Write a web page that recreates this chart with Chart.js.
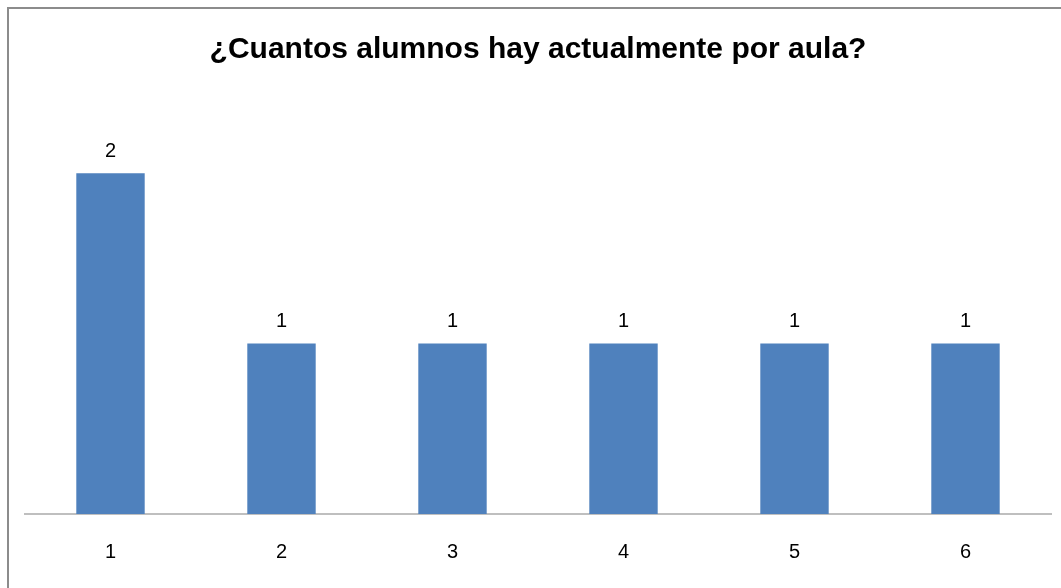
<!DOCTYPE html>
<html>
<head>
<meta charset="utf-8">
<script src="https://cdn.jsdelivr.net/npm/chart.js@4/dist/chart.umd.min.js"></script>
<style>
  html, body { margin: 0; padding: 0; background: #fff; overflow: hidden; }
  #frame { position: absolute; left: 7px; top: 7px; width: 1100px; height: 640px; border: 2px solid #8c8c8c; box-sizing: border-box; }
  #wrap { position: absolute; left: 0; top: 0; width: 1061px; height: 588px; }
</style>
</head>
<body>
<div id="frame"></div>
<div id="wrap"><canvas id="aulas"></canvas></div>
<script>
var categorias = ['1', '2', '3', '4', '5', '6'];
var alumnos = [2, 1, 1, 1, 1, 1];
var titulo = '¿Cuantos alumnos hay actualmente por aula?';

// etiquetas de valor encima de cada barra
var valorEncima = {
    id: 'valorEncima',
    afterDatasetsDraw: function(chart) {
        var ctx = chart.ctx;
        var meta = chart.getDatasetMeta(0);
        ctx.save();
        ctx.font = '20px "Liberation Sans", Arial, sans-serif';
        ctx.fillStyle = '#000';
        ctx.textAlign = 'center';
        ctx.textBaseline = 'bottom';
        meta.data.forEach(function(bar, i) {
            ctx.fillText(String(alumnos[i]), bar.x, bar.y - 12);
        });
        ctx.restore();
    }
};

var ctx = document.getElementById('aulas').getContext('2d');
var grafico = new Chart(ctx, {
    type: 'bar',
    data: {
        labels: categorias,
        datasets: [{
            data: alumnos,
            backgroundColor: '#4f81bd',
            borderWidth: 0,
            barPercentage: 0.4,
            categoryPercentage: 1
        }]
    },
    options: {
        responsive: true,
        maintainAspectRatio: false,
        animation: false,
        layout: { padding: { left: 25, right: 10, top: 0, bottom: 6 } },
        plugins: {
            legend: { display: false },
            tooltip: { enabled: false },
            title: {
                display: true,
                text: titulo,
                color: '#000',
                font: { family: '"Liberation Sans", Arial, sans-serif', size: 30, weight: 'bold' },
                padding: { top: 32, bottom: 20 }
            }
        },
        scales: {
            x: {
                grid: { display: false },
                border: { display: true, color: '#bfbfbf', width: 2 },
                ticks: { color: '#000', padding: 18, font: { family: '"Liberation Sans", Arial, sans-serif', size: 20 } }
            },
            y: {
                display: false,
                min: 0,
                max: 2.5
            }
        }
    },
    plugins: [valorEncima]
});
</script>
</body>
</html>
